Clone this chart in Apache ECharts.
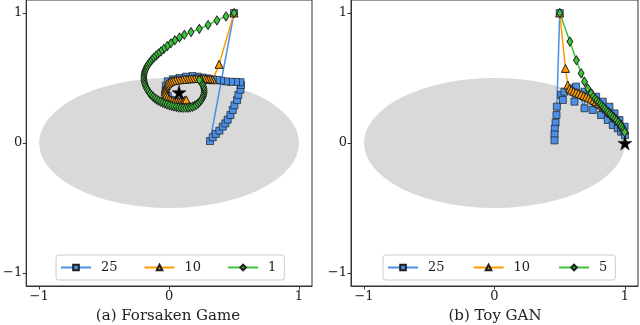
<!DOCTYPE html>
<html><head><meta charset="utf-8">
<script src="https://cdn.jsdelivr.net/npm/echarts@6/dist/echarts.min.js"></script>
<style>html,body{margin:0;padding:0;background:#fff}#c{width:640px;height:325px}</style>
</head><body><div id="c"></div>
<script>
const tickValues = [-1, 0, 1];
const axisMin = -1.1, axisMax = 1.1;
const ellipseCenter = [0, 0];
const ellipseRadii = [1, 0.5];
const panelTitles = ['(a) Forsaken Game', '(b) Toy GAN'];
const leftNames = ['25', '10', '1'];
const rightNames = ['25', '10', '5'];
const leftStar = [[0.077, 0.39]];
const rightStar = [[1.0, 0.0]];

const left25 = [[0.5,1.0],[0.315,0.015],[0.336,0.044],[0.36,0.07],[0.387,0.095],[0.413,0.126],[0.433,0.151],[0.451,0.18],[0.472,0.215],[0.49,0.254],[0.503,0.29],[0.523,0.33],[0.533,0.37],[0.549,0.41],[0.554,0.446],[0.549,0.468],[0.515,0.47],[0.477,0.47],[0.438,0.474],[0.4,0.48],[0.369,0.485],[0.336,0.49],[0.297,0.497],[0.259,0.503],[0.22,0.51],[0.18,0.515],[0.13,0.51],[0.08,0.5],[0.03,0.49],[-0.01,0.475],[-0.025,0.44],[-0.025,0.4],[-0.01,0.36],[0.03,0.33],[0.08,0.32]];
const left10 = [[0.5,1.0],[0.385,0.605],[0.336,0.487],[0.318,0.49],[0.3,0.492],[0.282,0.494],[0.264,0.495],[0.246,0.496],[0.228,0.496],[0.21,0.496],[0.192,0.496],[0.174,0.495],[0.156,0.494],[0.138,0.493],[0.12,0.491],[0.102,0.489],[0.084,0.487],[0.066,0.485],[0.048,0.482],[0.03,0.479],[0.014,0.474],[0.0,0.466],[-0.012,0.455],[-0.021,0.442],[-0.027,0.427],[-0.03,0.411],[-0.03,0.395],[-0.027,0.379],[-0.021,0.364],[-0.012,0.351],[0.0,0.34],[0.013,0.331],[0.027,0.324],[0.042,0.319],[0.058,0.317],[0.074,0.318],[0.09,0.321],[0.106,0.325],[0.12,0.329],[0.132,0.332]];
const left1 = [[0.5,1.0],[0.438,0.974],[0.368,0.943],[0.3,0.908],[0.233,0.878],[0.169,0.853],[0.118,0.832],[0.08,0.812],[0.045,0.79],[0.014,0.767],[-0.014,0.745],[-0.04,0.724],[-0.062,0.705],[-0.082,0.688],[-0.1,0.672],[-0.116,0.657],[-0.13,0.642],[-0.143,0.627],[-0.155,0.612],[-0.165,0.597],[-0.174,0.582],[-0.181,0.566],[-0.187,0.55],[-0.191,0.534],[-0.193,0.517],[-0.194,0.5],[-0.193,0.483],[-0.19,0.467],[-0.186,0.451],[-0.18,0.436],[-0.173,0.421],[-0.165,0.407],[-0.156,0.393],[-0.146,0.38],[-0.135,0.368],[-0.123,0.356],[-0.11,0.345],[-0.096,0.335],[-0.081,0.326],[-0.065,0.317],[-0.049,0.309],[-0.032,0.302],[-0.015,0.296],[0.002,0.29],[0.02,0.285],[0.038,0.281],[0.056,0.277],[0.074,0.274],[0.092,0.272],[0.11,0.271],[0.128,0.271],[0.146,0.272],[0.163,0.275],[0.18,0.279],[0.196,0.286],[0.21,0.294],[0.223,0.304],[0.235,0.316],[0.246,0.329],[0.255,0.343],[0.262,0.358],[0.267,0.373],[0.27,0.388],[0.27,0.404],[0.268,0.42],[0.264,0.435],[0.258,0.45],[0.25,0.463],[0.24,0.475],[0.233,0.485]];

const right25 = [[0.5,1.0],[0.478,0.28],[0.475,0.215],[0.468,0.156],[0.462,0.11],[0.46,0.066],[0.46,0.02],[0.511,0.369],[0.524,0.331],[0.536,0.395],[0.575,0.421],[0.613,0.318],[0.626,0.434],[0.69,0.267],[0.69,0.395],[0.728,0.382],[0.753,0.254],[0.779,0.356],[0.817,0.215],[0.83,0.318],[0.868,0.177],[0.881,0.279],[0.907,0.138],[0.92,0.228],[0.945,0.113],[0.958,0.177],[0.971,0.087],[0.997,0.125],[1.0,0.06]];
const right10 = [[0.5,1.0],[0.544,0.574],[0.562,0.446],[0.575,0.42],[0.588,0.408],[0.607,0.398],[0.626,0.39],[0.645,0.382],[0.664,0.374],[0.684,0.365],[0.703,0.356],[0.722,0.347],[0.741,0.338],[0.76,0.328],[0.779,0.318],[0.798,0.305],[0.817,0.292],[0.836,0.277],[0.856,0.262],[0.875,0.245],[0.894,0.228],[0.913,0.209],[0.932,0.19],[0.952,0.168],[0.971,0.146],[0.984,0.123],[0.996,0.1]];
const right5 = [[0.5,1.0],[0.578,0.78],[0.628,0.636],[0.664,0.537],[0.69,0.472],[0.715,0.421],[0.741,0.382],[0.758,0.356],[0.772,0.34],[0.785,0.326],[0.798,0.313],[0.81,0.3],[0.822,0.287],[0.834,0.274],[0.846,0.262],[0.858,0.249],[0.87,0.236],[0.883,0.223],[0.896,0.21],[0.909,0.197],[0.922,0.185],[0.934,0.172],[0.947,0.159],[0.96,0.146],[0.97,0.132],[0.98,0.118],[0.99,0.1],[0.997,0.084]];

const FONT = 'DejaVu Serif';
const AX = '#333';
const styles = {
  blue:   {symbol: 'rect', size: 7, color: '#4a8fe8', bw: 0.7},
  orange: {symbol: 'triangle', size: 8, color: '#ff9a00', bw: 1},
  green:  {symbol: 'diamond', size: [6, 9], color: '#3cc43c', bw: 0.9}
};
const starPath = 'path://M50,0 L61,35 L98,35 L68,57 L79,91 L50,70 L21,91 L32,57 L2,35 L39,35 Z';

function lineSeries(name, data, st, gi) {
  return {
    type: 'line', name: name, data: data, xAxisIndex: gi, yAxisIndex: gi,
    symbol: st.symbol, symbolSize: st.size, showAllSymbol: true, silent: true,
    lineStyle: {color: st.color, width: 1.5},
    itemStyle: {color: st.color, borderColor: '#1e1e1e', borderWidth: st.bw, opacity: 1},
    z: 3, animation: false
  };
}
function ellipseSeries(gi) {
  return {
    type: 'custom', xAxisIndex: gi, yAxisIndex: gi, silent: true, z: 1,
    data: [[ellipseCenter[0], ellipseCenter[1], ellipseRadii[0], ellipseRadii[1]]],
    encode: {x: 0, y: 1},
    renderItem: function (params, api) {
      const c = api.coord([api.value(0), api.value(1)]);
      const s = api.size([api.value(2), api.value(3)]);
      return {type: 'circle', shape: {cx: 0, cy: 0, r: 1}, x: c[0], y: c[1],
              scaleX: s[0], scaleY: s[1], style: {fill: '#d9d9d9'}, silent: true};
    }
  };
}
function starSeries(data, gi) {
  return {type: 'scatter', data: data, xAxisIndex: gi, yAxisIndex: gi, symbol: starPath,
    symbolSize: 14, itemStyle: {color: '#000', borderColor: '#000', borderWidth: 0.5, opacity: 1}, z: 6, silent: true};
}
const fmt = v => (v < 0 ? '\u2212' + Math.abs(v) : String(v));
function axis(gi) {
  return {
    type: 'value', gridIndex: gi, min: axisMin, max: axisMax,
    splitLine: {show: false},
    axisLine: {show: true, onZero: false, lineStyle: {color: AX, width: 1}},
    axisTick: {show: true, inside: false, length: 3.5, customValues: tickValues, lineStyle: {color: AX}},
    axisLabel: {customValues: tickValues, formatter: fmt, fontFamily: FONT, fontSize: 13, color: '#222', margin: 4}
  };
}
function legend(names, left, gap) {
  return {
    data: names, left: left, top: 255, orient: 'horizontal',
    itemWidth: 30, itemHeight: 7, itemGap: gap,
    padding: [6, 8, 6, 4], borderColor: '#cccccc', borderWidth: 1, borderRadius: 3,
    backgroundColor: '#fff',
    textStyle: {fontFamily: FONT, fontSize: 13, color: '#222', padding: [0, 0, 0, 5]},
    selectedMode: false
  };
}

const chart = echarts.init(document.getElementById('c'), null, {renderer: 'canvas'});
chart.setOption({
  animation: false,
  backgroundColor: '#fff',
  grid: [
    {left: 24, top: 0, width: 288, height: 286, show: true, borderColor: AX, borderWidth: 1},
    {left: 351, top: 0, width: 287, height: 286, show: true, borderColor: AX, borderWidth: 1}
  ],
  xAxis: [axis(0), axis(1)],
  yAxis: [axis(0), axis(1)],
  legend: [legend(leftNames, 56, 26), legend(rightNames, 383, 28)],
  graphic: [
    {type: 'text', x: 168, y: 316, style: {text: panelTitles[0], font: '15px "DejaVu Serif"', fill: '#222', textAlign: 'center', textVerticalAlign: 'middle'}},
    {type: 'text', x: 495, y: 316, style: {text: panelTitles[1], font: '15px "DejaVu Serif"', fill: '#222', textAlign: 'center', textVerticalAlign: 'middle'}}
  ],
  series: [
    ellipseSeries(0), ellipseSeries(1),
    lineSeries(leftNames[0], left25, styles.blue, 0),
    lineSeries(leftNames[1], left10, styles.orange, 0),
    lineSeries(leftNames[2], left1, styles.green, 0),
    lineSeries(rightNames[0], right25, styles.blue, 1),
    lineSeries(rightNames[1], right10, styles.orange, 1),
    lineSeries(rightNames[2], right5, styles.green, 1),
    starSeries(leftStar, 0), starSeries(rightStar, 1)
  ]
});
</script></body></html>
